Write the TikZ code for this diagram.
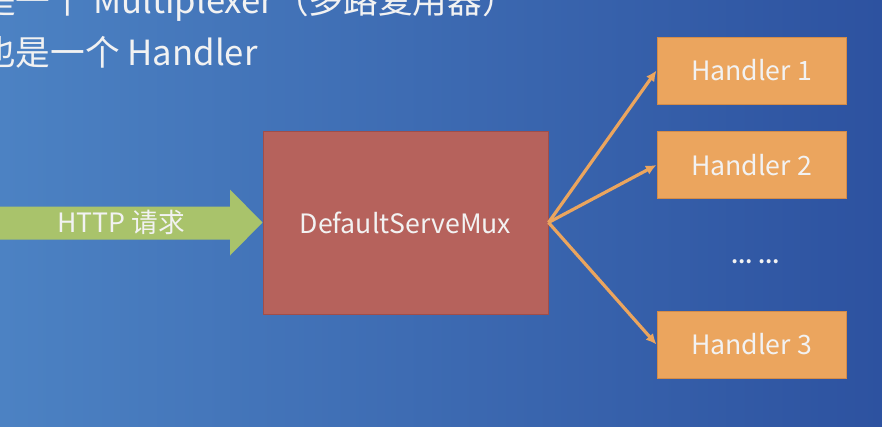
\documentclass[tikz,border=0pt]{standalone}
\usepackage{fontspec}
\setmainfont{Noto Sans CJK SC}
\usetikzlibrary{arrows.meta}

\definecolor{bgleft}{HTML}{4C82C3}
\definecolor{bgright}{HTML}{2D52A0}
\definecolor{muxfill}{HTML}{B6625C}
\definecolor{muxline}{HTML}{A04E4A}
\definecolor{handlerfill}{HTML}{EBA55E}
\definecolor{handlerline}{HTML}{D48C48}
\definecolor{httpgreen}{HTML}{A9C36B}
\definecolor{slidetext}{HTML}{F2F2F2}

\begin{document}
\begin{tikzpicture}[
        x=0.75pt, y=-0.75pt,
        declare function={
            Width=882;
            Height=426;
            HandlerX=751.5;
            MuxX=405.5;
            MuxY=222.5;
        },
        boxtext/.style={text=slidetext, font=\fontsize{20}{24}\selectfont},
        muxbox/.style={boxtext, fill=muxfill, draw=muxline, line width=0.75pt,
            minimum width=213.75pt, minimum height=137.25pt},
        handlerbox/.style={boxtext, fill=handlerfill, draw=handlerline, line width=0.75pt,
            minimum width=141.75pt, minimum height=50.25pt},
        fanout/.style={handlerfill, line width=2.4pt, -{Latex[length=8pt, width=7.5pt]}},
        slideline/.style={text=slidetext, anchor=base west, inner sep=0pt,
            font=\fontsize{26}{30}\selectfont}
    ]
        \useasboundingbox (0, 0) rectangle (Width, Height);
        \clip (0, 0) rectangle (Width, Height);
        \shade[left color=bgleft, right color=bgright] (0, 0) rectangle (Width, Height);

        % slide text, cut off by the frame
        \node[slideline] (line1) at (-19, 13) {是一个 Multiplexer（多路复用器）};
        \node[slideline] (line2) at (-19, 65) {也是一个 Handler};

        \node[muxbox] (mux) at (MuxX, MuxY) {DefaultServeMux};

        \node[handlerbox] (h1) at (HandlerX, 70.5) {Handler 1};
        \node[handlerbox] (h2) at (HandlerX, 165) {Handler 2};
        \node[handlerbox] (h3) at (HandlerX, 344.5) {Handler 3};
        \node[boxtext, font=\fontsize{14}{18}\selectfont\bfseries] (more) at (755.5, 262) {…\hspace{5pt}…};

        % incoming request
        \fill[httpgreen] (mux.west) -- (230, 189.5) -- (230, 206.5) -- (-5, 206.5)
            -- (-5, 239.5) -- (230, 239.5) -- (230, 255.5) -- cycle;
        \node[boxtext] (req) at (121, 222.5) {HTTP 请求};

        \foreach \h in {h1, h2, h3}
            \draw[fanout] (mux.east) -- (\h.west);
    \end{tikzpicture}
\end{document}
